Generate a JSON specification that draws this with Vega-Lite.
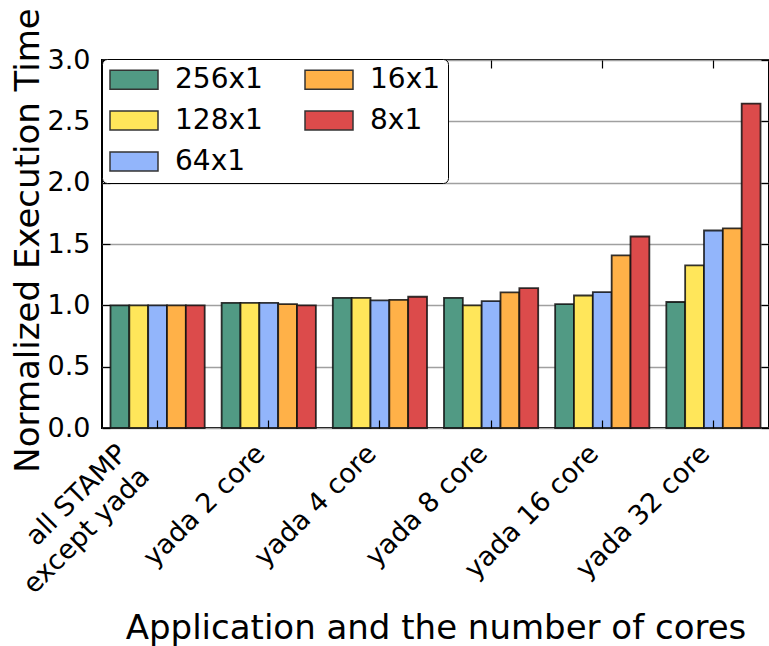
{
  "$schema": "https://vega.github.io/schema/vega-lite/v6.json",
  "autosize": {"type": "none"},
  "width": 667,
  "height": 368,
  "padding": {"left": 102, "top": 60, "right": 0, "bottom": 218},
  "config": {
    "font": "DejaVu Sans",
    "view": {"stroke": "black", "strokeWidth": 2},
    "axis": {"labelColor": "black", "titleColor": "black", "tickColor": "black", "titleFontWeight": "normal", "domain": false}
  },
  "data": {
    "values": [
      {"group": "all STAMP except yada", "config": "256x1", "time": 1.0},
      {"group": "all STAMP except yada", "config": "128x1", "time": 1.0},
      {"group": "all STAMP except yada", "config": "64x1", "time": 1.0},
      {"group": "all STAMP except yada", "config": "16x1", "time": 1.0},
      {"group": "all STAMP except yada", "config": "8x1", "time": 1.0},
      {"group": "yada 2 core", "config": "256x1", "time": 1.02},
      {"group": "yada 2 core", "config": "128x1", "time": 1.02},
      {"group": "yada 2 core", "config": "64x1", "time": 1.02},
      {"group": "yada 2 core", "config": "16x1", "time": 1.01},
      {"group": "yada 2 core", "config": "8x1", "time": 1.0},
      {"group": "yada 4 core", "config": "256x1", "time": 1.06},
      {"group": "yada 4 core", "config": "128x1", "time": 1.06},
      {"group": "yada 4 core", "config": "64x1", "time": 1.04},
      {"group": "yada 4 core", "config": "16x1", "time": 1.045},
      {"group": "yada 4 core", "config": "8x1", "time": 1.07},
      {"group": "yada 8 core", "config": "256x1", "time": 1.06},
      {"group": "yada 8 core", "config": "128x1", "time": 1.0},
      {"group": "yada 8 core", "config": "64x1", "time": 1.035},
      {"group": "yada 8 core", "config": "16x1", "time": 1.105},
      {"group": "yada 8 core", "config": "8x1", "time": 1.14},
      {"group": "yada 16 core", "config": "256x1", "time": 1.01},
      {"group": "yada 16 core", "config": "128x1", "time": 1.08},
      {"group": "yada 16 core", "config": "64x1", "time": 1.108},
      {"group": "yada 16 core", "config": "16x1", "time": 1.407},
      {"group": "yada 16 core", "config": "8x1", "time": 1.561},
      {"group": "yada 32 core", "config": "256x1", "time": 1.027},
      {"group": "yada 32 core", "config": "128x1", "time": 1.325},
      {"group": "yada 32 core", "config": "64x1", "time": 1.61},
      {"group": "yada 32 core", "config": "16x1", "time": 1.628},
      {"group": "yada 32 core", "config": "8x1", "time": 2.645}
    ]
  },
  "layer": [
    {
      "mark": {"type": "bar", "stroke": "#111111", "strokeOpacity": 0.85, "strokeWidth": 1.8},
      "encoding": {
        "x": {
          "field": "group", "type": "nominal",
          "sort": ["all STAMP except yada", "yada 2 core", "yada 4 core", "yada 8 core", "yada 16 core", "yada 32 core"],
          "scale": {"paddingInner": 0, "paddingOuter": 0},
          "axis": {
            "orient": "bottom",
            "zindex": 1,
            "title": "Application and the number of cores",
            "titleFontSize": 34,
            "titleBaseline": "alphabetic",
            "titleY": 210,
            "labelFontSize": 27,
            "labelAngle": -45,
            "labelAlign": "right",
            "labelBaseline": "top",
            "labelPadding": 20,
            "labelLineHeight": 32,
            "labelLimit": 400,
            "labelExpr": "datum.label == 'all STAMP except yada' ? ['all STAMP', 'except yada'] : datum.label",
            "labelOffset": {"condition": {"test": "datum.label == 'all STAMP except yada'", "value": -44}, "value": -17},
            "tickSize": -8,
            "tickWidth": 1.2,
            "grid": false
          }
        },
        "xOffset": {
          "field": "config", "type": "nominal",
          "sort": ["256x1", "128x1", "64x1", "16x1", "8x1"],
          "scale": {"paddingInner": 0, "paddingOuter": 0.45}
        },
        "y": {
          "field": "time", "type": "quantitative",
          "scale": {"domain": [0, 3], "nice": false},
          "axis": {
            "orient": "left",
            "title": "Normalized Execution Time",
            "titleFontSize": 34,
            "titleAngle": -90,
            "titleAlign": "center",
            "titleBaseline": "alphabetic",
            "titleX": -64,
            "titleY": 180,
            "values": [0, 0.5, 1, 1.5, 2, 2.5, 3],
            "format": ".1f",
            "labelFontSize": 27,
            "labelPadding": 20,
            "tickSize": -8,
            "tickWidth": 1.2,
            "grid": true,
            "gridColor": "#a0a0a0",
            "gridWidth": 1.3
          }
        },
        "color": {
          "field": "config", "type": "nominal",
          "scale": {
            "domain": ["256x1", "128x1", "64x1", "16x1", "8x1"],
            "range": ["#519a84", "#ffe65a", "#92b5fb", "#ffb148", "#dc4b4b"]
          },
          "legend": {
            "title": null,
            "orient": "none",
            "legendX": 0,
            "legendY": -1,
            "columns": 2,
            "columnPadding": 41,
            "rowPadding": 12,
            "padding": 7,
            "clipHeight": 27,
            "cornerRadius": 5,
            "fillColor": "white",
            "strokeColor": "black",
            "labelFontSize": 28,
            "labelColor": "black",
            "labelOffset": 16,
            "labelLimit": 300,
            "symbolType": "M-1,-0.4H1V0.4H-1Z",
            "symbolSize": 2304,
            "symbolStrokeColor": "#333333",
            "symbolStrokeWidth": 1.5,
            "symbolOpacity": 1
          }
        }
      }
    },
    {
      "mark": {"type": "bar", "opacity": 0},
      "encoding": {
        "x": {
          "field": "group", "type": "nominal",
          "sort": ["all STAMP except yada", "yada 2 core", "yada 4 core", "yada 8 core", "yada 16 core", "yada 32 core"],
          "scale": {"paddingInner": 0, "paddingOuter": 0},
          "axis": {"orient": "top", "title": null, "labels": false, "tickSize": -8, "tickWidth": 1.2, "grid": false}
        },
        "y": {
          "field": "time", "type": "quantitative",
          "scale": {"domain": [0, 3], "nice": false},
          "axis": {"orient": "right", "title": null, "labels": false, "values": [0, 0.5, 1, 1.5, 2, 2.5, 3], "tickSize": -8, "tickWidth": 1.2, "grid": false}
        }
      }
    }
  ],
  "resolve": {"axis": {"x": "independent", "y": "independent"}}
}
